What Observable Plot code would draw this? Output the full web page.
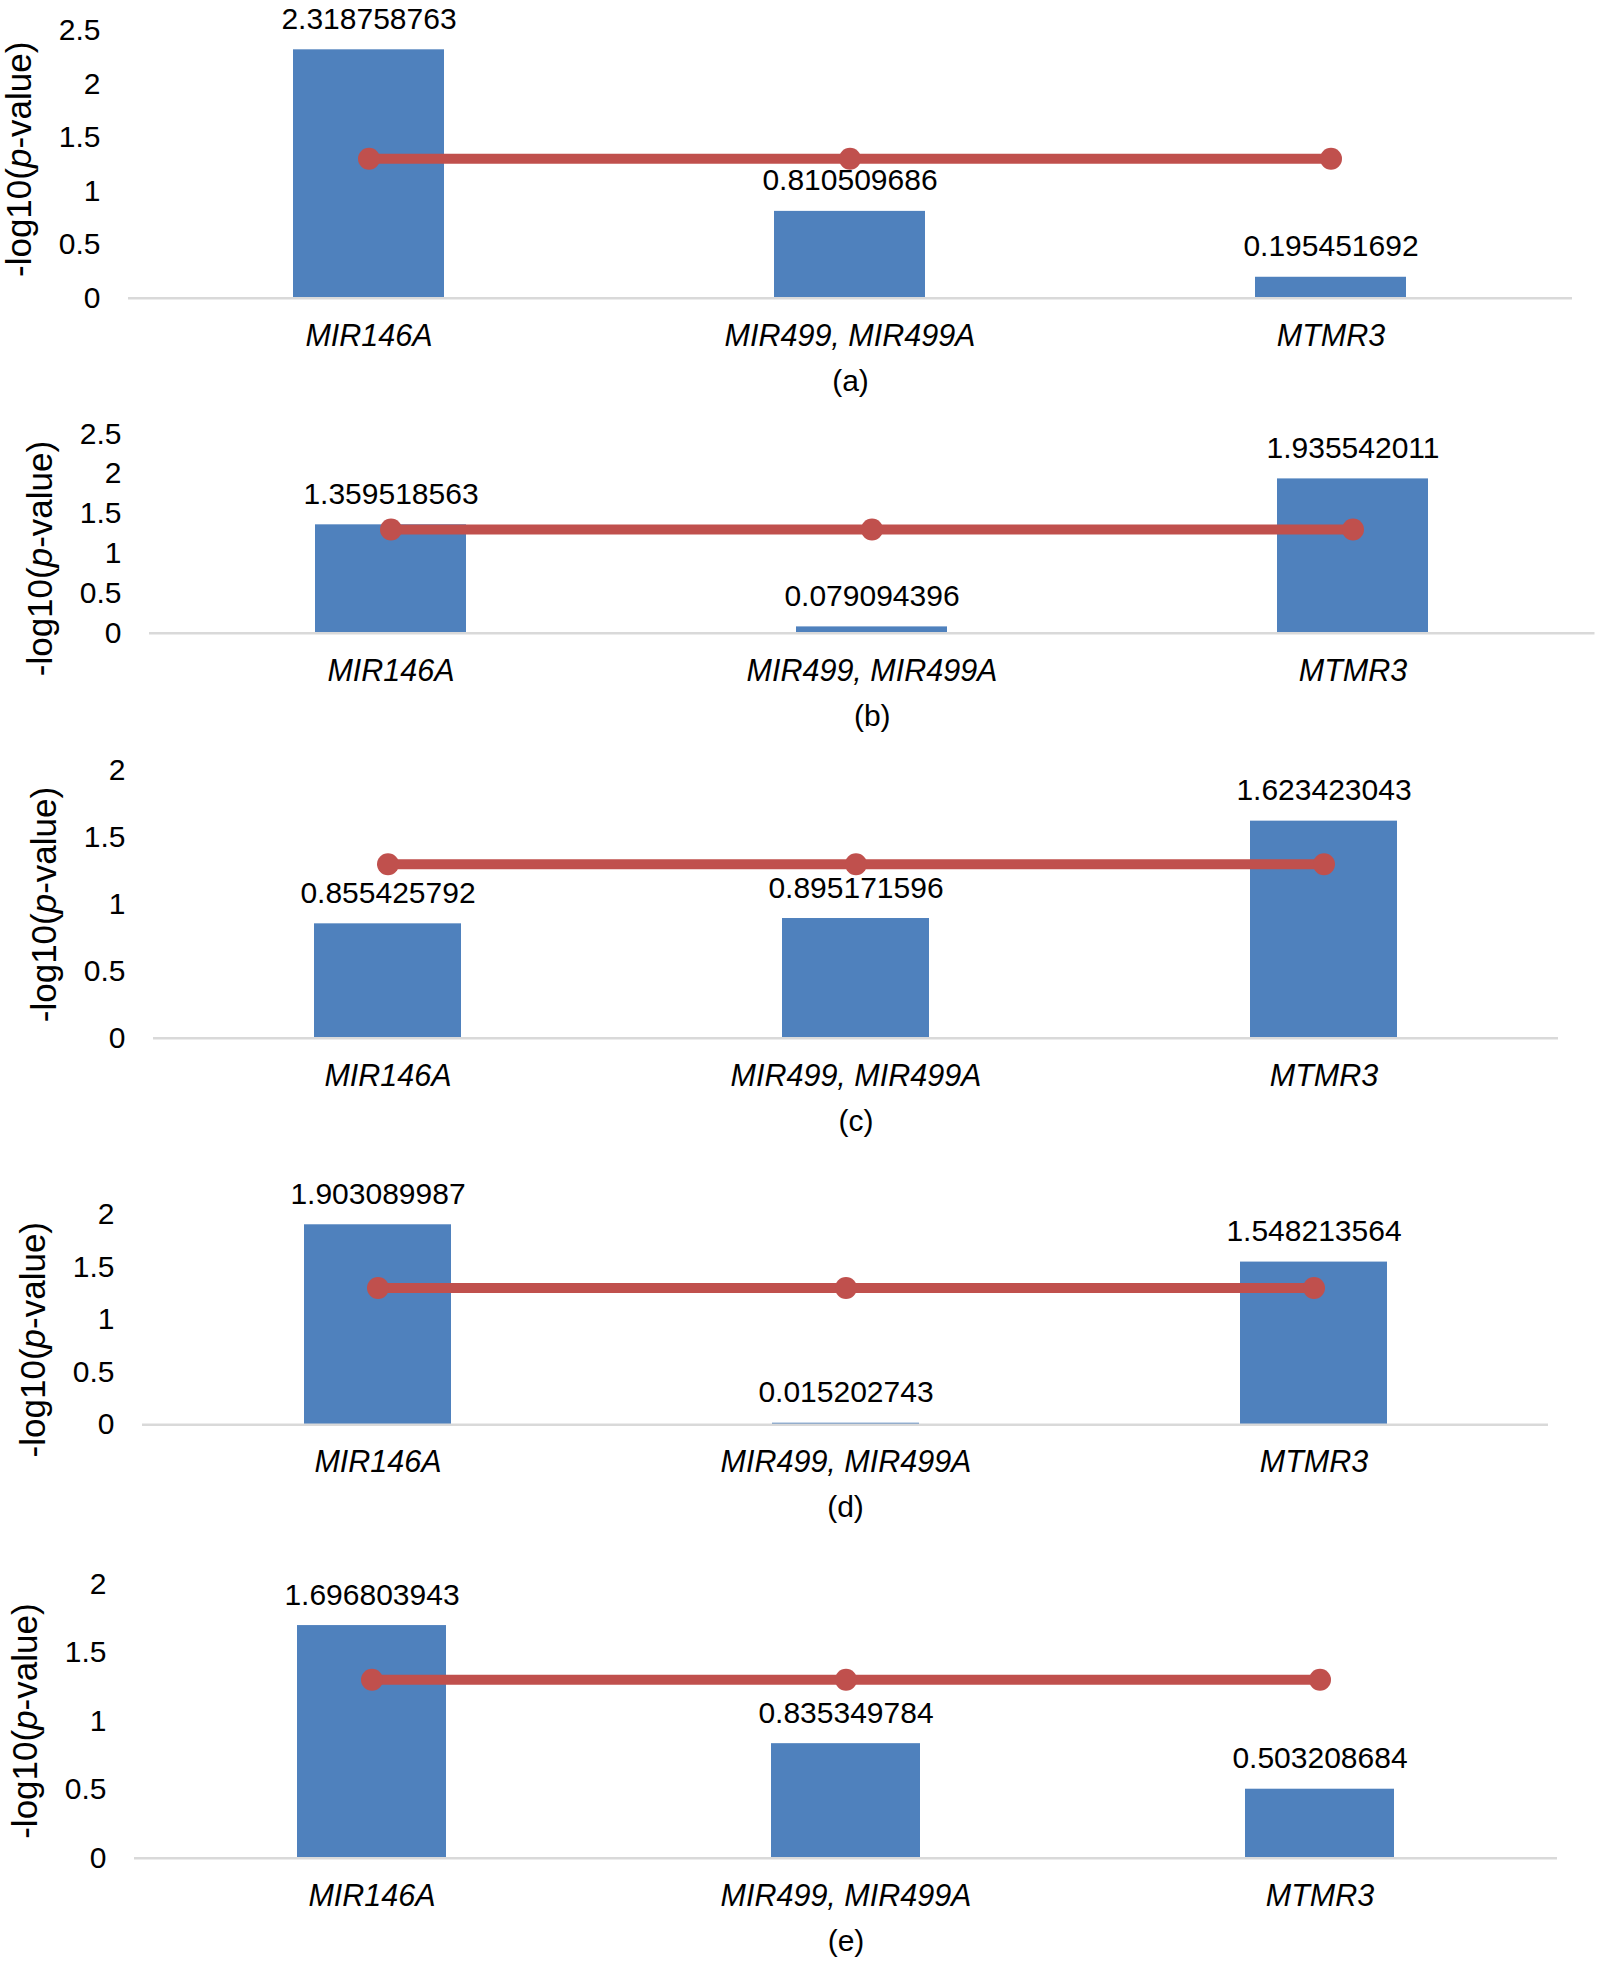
<!DOCTYPE html>
<html>
<head>
<meta charset="utf-8">
<script src="https://cdn.jsdelivr.net/npm/d3@7"></script>
<script src="https://cdn.jsdelivr.net/npm/@observablehq/plot@0.6"></script>
<style>
  html, body { margin: 0; padding: 0; background: #fff; }
  #root { position: relative; width: 1599px; height: 1964px; overflow: hidden; background: #fff; }
  #root svg { position: absolute; left: 0; }
  g[aria-label="x-axis tick label"] { font-style: italic; }
</style>
</head>
<body>
<div id="root"></div>
<script>
// ---- data ----
const categories = ["MIR146A", "MIR499, MIR499A", "MTMR3"];
const valuesA = [2.318758763, 0.810509686, 0.195451692];
const valuesB = [1.359518563, 0.079094396, 1.935542011];
const valuesC = [0.855425792, 0.895171596, 1.623423043];
const valuesD = [1.903089987, 0.015202743, 1.548213564];
const valuesE = [1.696803943, 0.835349784, 0.503208684];
const significance = [1.30103, 1.30103, 1.30103]; // -log10(0.05) threshold line
const ticks25 = [0, 0.5, 1, 1.5, 2, 2.5];
const ticks20 = [0, 0.5, 1, 1.5, 2];
const captions = ["(a)", "(b)", "(c)", "(d)", "(e)"];
const yTitle = "-log10(p-value)";

// ---- layout (per panel) ----
const panels = [
  {values: valuesA, ticks: ticks25, caption: captions[0], top: 0,    height: 405, mt: 29.9, mb: 107.3, ml: 128, mr: 27,  titleShift: -5},
  {values: valuesB, ticks: ticks25, caption: captions[1], top: 405,  height: 340, mt: 28.4, mb: 112.3, ml: 149, mr: 4.5, titleShift: 25},
  {values: valuesC, ticks: ticks20, caption: captions[2], top: 745,  height: 395, mt: 25.3, mb: 102.3, ml: 153, mr: 41,  titleShift: 0},
  {values: valuesD, ticks: ticks20, caption: captions[3], top: 1140, height: 390, mt: 74.1, mb: 105.7, ml: 142, mr: 51,  titleShift: 20},
  {values: valuesE, ticks: ticks20, caption: captions[4], top: 1530, height: 434, mt: 53.5, mb: 106.3, ml: 134, mr: 42,  titleShift: 0}
];

const FONT = "'Liberation Sans', Arial, Helvetica, sans-serif";
const root = document.getElementById("root");

for (const p of panels) {
  const data = categories.map((c, i) => ({category: c, value: p.values[i], sig: significance[i]}));
  const ymax = p.ticks[p.ticks.length - 1];
  const chart = Plot.plot({
    width: 1599,
    height: p.height,
    marginTop: p.mt,
    marginBottom: p.mb,
    marginLeft: p.ml,
    marginRight: p.mr,
    style: {fontFamily: FONT, fontSize: "30px", color: "#000", background: "transparent", overflow: "visible"},
    x: {type: "band", domain: categories, paddingInner: 0.686, paddingOuter: 0.343, align: 0.5, label: null},
    y: {domain: [0, ymax], label: null},
    marks: [
      Plot.barY(data, {x: "category", y: "value", fill: "#4F81BD"}),
      Plot.ruleY([0], {stroke: "#D9D9D9", strokeWidth: 2.5}),
      Plot.line(data, {x: "category", y: "sig", stroke: "#C0504D", strokeWidth: 10}),
      Plot.dot(data, {x: "category", y: "sig", r: 11, fill: "#C0504D", stroke: null}),
      Plot.text(data, {x: "category", y: "value", text: d => String(d.value), dy: -21, lineAnchor: "bottom", fontSize: 30, fill: "#000"}),
      Plot.axisY({ticks: p.ticks, tickSize: 0, tickPadding: 28, fontSize: 30, label: null, tickFormat: d3.format("~g")}),
      Plot.axisX({tickSize: 0, tickPadding: 26, fontSize: 30.5, label: null}),
      Plot.text([yTitle], {frameAnchor: "left", textAnchor: "middle", rotate: -90, dx: -109, dy: p.titleShift, fontSize: 35, lineAnchor: "middle", fill: "#000"}),
      Plot.text([p.caption], {frameAnchor: "bottom", dy: 83, lineAnchor: "middle", fontSize: 30, fill: "#000"})
    ]
  });
  chart.style.top = p.top + "px";
  // italic "p" in the y-axis title
  chart.querySelectorAll("text").forEach(t => {
    if (t.textContent === yTitle) {
      t.textContent = "";
      const ns = "http://www.w3.org/2000/svg";
      [["-log10(", null], ["p", "italic"], ["-value)", null]].forEach(([s, st]) => {
        const ts = document.createElementNS(ns, "tspan");
        ts.textContent = s;
        if (st) ts.setAttribute("font-style", st);
        t.appendChild(ts);
      });
    }
  });
  root.appendChild(chart);
}
</script>
</body>
</html>
